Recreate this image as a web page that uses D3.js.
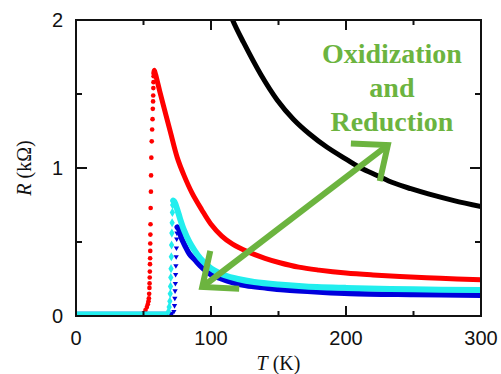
<!DOCTYPE html>
<html>
<head>
<meta charset="utf-8">
<script src="https://cdn.jsdelivr.net/npm/d3@7/dist/d3.min.js"></script>
<style>
  body { margin: 0; background: #fff; }
  svg { display: block; }
</style>
</head>
<body>
<svg id="chart" width="501" height="374"></svg>
<script>
// axis ticks
const tempTicks = [0, 100, 200, 300];
const tempMinor = [50, 150, 250];
const resTicks = [0, 1, 2];
const resMinor = [0.5, 1.5];

// red sample: flat, steep rise (dots), then decay
const redBase = [[0, 0.01], [48, 0.01]];
const redRise = [[50, 0.02], [51.5, 0.04], [52.5, 0.06], [53.2, 0.08], [53.7, 0.10], [54, 0.12], [54.2, 0.15],
  [54.4, 0.19], [54.5, 0.22], [54.6, 0.26], [54.7, 0.30], [54.8, 0.35], [54.9, 0.39], [55, 0.44], [55, 0.49],
  [55.1, 0.55], [55.2, 0.62], [55.3, 0.73], [55.5, 0.84], [55.6, 0.95], [55.8, 1.07], [56.1, 1.18],
  [56.4, 1.26], [56.7, 1.33], [56.9, 1.40], [57.1, 1.45], [57.2, 1.49], [57.3, 1.54], [57.4, 1.58], [57.5, 1.62]];
const redFall = [[57.6, 1.64], [58, 1.66], [59, 1.63], [62, 1.52], [66, 1.38], [70, 1.24], [75, 1.07], [80, 0.95],
  [86, 0.83], [93, 0.72], [100, 0.62], [108, 0.54], [116, 0.485], [127, 0.435], [140, 0.39], [151, 0.36],
  [165, 0.33], [180, 0.31], [200, 0.29], [220, 0.277], [240, 0.267], [270, 0.255], [300, 0.245]];

// blue sample
const blueBase = [[0, 0.01], [72, 0.01]];
const blueRise = [[72.5, 0.03], [73, 0.07], [73.2, 0.12], [73.4, 0.17], [73.6, 0.22], [73.8, 0.28], [74, 0.34],
  [74.2, 0.40], [74.4, 0.46], [74.6, 0.52], [74.8, 0.56]];
const blueFall = [[75, 0.60], [76.5, 0.58], [78, 0.53], [81, 0.47], [84, 0.42], [88, 0.38], [92, 0.34], [100, 0.28],
  [108, 0.25], [116, 0.225], [126, 0.205], [140, 0.19], [154, 0.177], [180, 0.162], [203, 0.152], [250, 0.145],
  [300, 0.14]];

// cyan sample
const cyanBase = [[0, 0.01], [68, 0.01]];
const cyanRise = [[68.5, 0.03], [69, 0.06], [69.5, 0.10], [69.8, 0.15], [70, 0.20], [70.2, 0.26], [70.4, 0.32],
  [70.6, 0.40], [70.8, 0.48], [71, 0.56], [71.2, 0.63], [71.4, 0.70], [71.6, 0.75]];
const cyanFall = [[72, 0.78], [73, 0.77], [75, 0.72], [77, 0.66], [80, 0.58], [84, 0.50], [88, 0.44], [92, 0.39],
  [97, 0.345], [102, 0.31], [110, 0.275], [120, 0.25], [132, 0.23], [150, 0.213], [170, 0.2], [200, 0.19],
  [250, 0.18], [300, 0.175]];

// black sample (insulating)
const blackFall = [[110, 2.15], [116, 2.0], [124, 1.85], [137, 1.63], [149, 1.46], [161, 1.33],
  [173, 1.23], [186, 1.14], [200, 1.06], [211, 1.0], [223, 0.95], [235, 0.9], [248, 0.86], [261, 0.825],
  [280, 0.78], [300, 0.74]];

// annotation
const arrowEnds = [[93.5, 0.196], [231, 1.155]];
const noteLines = ["Oxidization", "and", "Reduction"];
const notePos = [234, 1.71];

const margin = { top: 20, right: 20, bottom: 58, left: 76 };
const width = 501, height = 374;

const svg = d3.select("#chart");

const x = d3.scaleLinear().domain([0, 300]).range([margin.left, width - margin.right]);
const y = d3.scaleLinear().domain([0, 2]).range([height - margin.bottom, margin.top]);

svg.append("defs").append("clipPath").attr("id", "clip")
  .append("rect")
  .attr("x", margin.left).attr("y", margin.top)
  .attr("width", x(300) - x(0)).attr("height", y(0) - y(2));

const plot = svg.append("g").attr("clip-path", "url(#clip)");

const line = d3.line().x(d => x(d[0])).y(d => y(d[1])).curve(d3.curveCatmullRom.alpha(0.5));

function drawSeries(base, rise, fall, color, symbol, size, lw, rot) {
  plot.append("path").datum(base)
    .attr("fill", "none").attr("stroke", color).attr("stroke-width", lw)
    .attr("d", d3.line().x(d => x(d[0])).y(d => y(d[1])));
  plot.append("path").datum(fall)
    .attr("fill", "none").attr("stroke", color).attr("stroke-width", lw)
    .attr("stroke-linejoin", "round").attr("stroke-linecap", "round")
    .attr("d", line);
  plot.selectAll(null).data(rise).enter().append("path")
    .attr("transform", d => "translate(" + x(d[0]) + "," + y(d[1]) + ") rotate(" + rot + ")")
    .attr("d", d3.symbol().type(symbol).size(size))
    .attr("fill", color);
}

// black curve
plot.append("path").datum(blackFall)
  .attr("fill", "none").attr("stroke", "#000").attr("stroke-width", 5)
  .attr("d", line);

drawSeries(redBase, redRise, redFall, "#ff0000", d3.symbolCircle, 17, 5, 0);
drawSeries(blueBase, blueRise, blueFall, "#0000dd", d3.symbolTriangle2, 20, 5.5, 180);
drawSeries(cyanBase, cyanRise, cyanFall, "#22eeee", d3.symbolDiamond, 24, 6, 0);

// frame
const frame = svg.append("g").attr("stroke", "#111").attr("stroke-width", 2).attr("fill", "none");
frame.append("rect")
  .attr("x", x(0)).attr("y", y(2))
  .attr("width", x(300) - x(0)).attr("height", y(0) - y(2));

// ticks, pointing inward on all four sides
const tk = svg.append("g").attr("stroke", "#111").attr("stroke-width", 2);
tempTicks.concat(tempMinor).forEach(t => {
  const len = tempTicks.includes(t) ? 10 : 5;
  tk.append("line").attr("x1", x(t)).attr("x2", x(t)).attr("y1", y(0)).attr("y2", y(0) - len);
  tk.append("line").attr("x1", x(t)).attr("x2", x(t)).attr("y1", y(2)).attr("y2", y(2) + len);
});
resTicks.concat(resMinor).forEach(r => {
  const len = resTicks.includes(r) ? 11 : 6;
  tk.append("line").attr("y1", y(r)).attr("y2", y(r)).attr("x1", x(0)).attr("x2", x(0) + len);
  tk.append("line").attr("y1", y(r)).attr("y2", y(r)).attr("x1", x(300)).attr("x2", x(300) - len);
});

// tick labels
svg.append("g").selectAll("text").data(tempTicks).enter().append("text")
  .attr("x", d => x(d)).attr("y", y(0) + 29)
  .attr("text-anchor", "middle")
  .attr("font-family", "Liberation Sans, Arial, sans-serif").attr("font-size", 20)
  .attr("fill", "#111")
  .text(d => d);

svg.append("g").selectAll("text").data(resTicks).enter().append("text")
  .attr("x", x(0) - 13).attr("y", d => y(d) + 7)
  .attr("text-anchor", "end")
  .attr("font-family", "Liberation Sans, Arial, sans-serif").attr("font-size", 20)
  .attr("fill", "#111")
  .text(d => d);

// axis titles
const xt = svg.append("text")
  .attr("x", x(150)).attr("y", 370)
  .attr("text-anchor", "middle")
  .attr("font-family", "Liberation Serif, Times New Roman, serif").attr("font-size", 20)
  .attr("fill", "#111");
xt.append("tspan").attr("font-style", "italic").text("T");
xt.append("tspan").text(" (K)");

const yt = svg.append("text")
  .attr("transform", "translate(31," + y(1) + ") rotate(-90)")
  .attr("text-anchor", "middle")
  .attr("font-family", "Liberation Serif, Times New Roman, serif").attr("font-size", 20)
  .attr("fill", "#111");
yt.append("tspan").attr("font-style", "italic").text("R");
yt.append("tspan").text(" (kΩ)");

// double-headed green arrow
const green = "#6cb43f";
const p0 = [x(arrowEnds[0][0]), y(arrowEnds[0][1])];
const p1 = [x(arrowEnds[1][0]), y(arrowEnds[1][1])];
const ang = Math.atan2(p1[1] - p0[1], p1[0] - p0[0]);
const headLen = 37, headAng = 40 * Math.PI / 180;

const arrow = svg.append("g").attr("stroke", green).attr("stroke-width", 6).attr("fill", "none");
arrow.append("line").attr("x1", p0[0]).attr("y1", p0[1]).attr("x2", p1[0]).attr("y2", p1[1]);

function head(p, a) {
  const pts = [
    [p[0] + headLen * Math.cos(a - headAng), p[1] + headLen * Math.sin(a - headAng)],
    p,
    [p[0] + headLen * Math.cos(a + headAng), p[1] + headLen * Math.sin(a + headAng)]
  ];
  arrow.append("path").attr("d", d3.line()(pts)).attr("stroke-linejoin", "miter");
}
head(p0, ang);
head(p1, ang + Math.PI);

// annotation text
svg.append("g").selectAll("text").data(noteLines).enter().append("text")
  .attr("x", x(notePos[0])).attr("y", (d, i) => y(notePos[1]) + i * 34)
  .attr("text-anchor", "middle")
  .attr("font-family", "Liberation Serif, Times New Roman, serif")
  .attr("font-weight", "bold").attr("font-size", 28)
  .attr("fill", green)
  .text(d => d);
</script>
</body>
</html>
